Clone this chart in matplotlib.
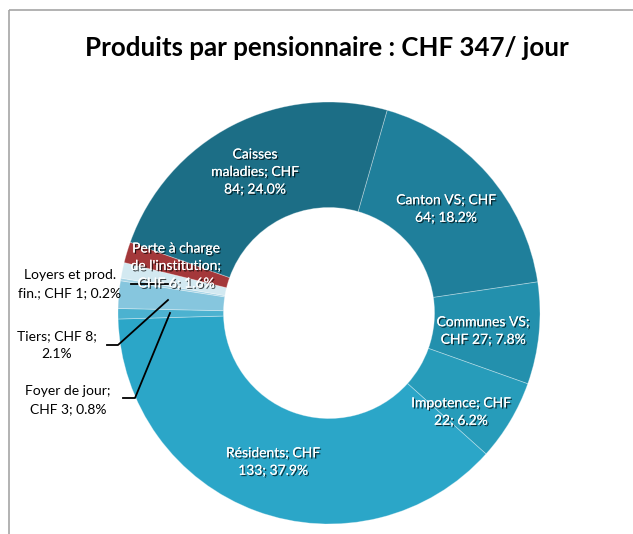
import matplotlib
matplotlib.use("Agg")
import matplotlib.pyplot as plt
import matplotlib.patheffects as pe
from matplotlib.patches import Rectangle

# slices in clockwise order starting at the Canton / Caisses boundary
labels = ["Canton VS", "Communes VS", "Impotence", "Résidents", "Foyer de jour",
          "Tiers", "Loyers et prod. fin.", "", "Perte à charge de l'institution",
          "Caisses maladies"]
chf = [64, 27, 22, 133, 3, 8, 1, None, 6, 84]
pct = [18.2, 7.8, 6.2, 37.9, 0.8, 2.1, 0.2, 1.2, 1.6, 24.0]
colors = ["#1f7f9b", "#2390ad", "#279cba", "#2ba6c8", "#4cb2d0",
          "#86c6de", "#a4d3e5", "#d3e9f1", "#a4383a", "#1c6e86"]

W, H = 633, 534
fig = plt.figure(figsize=(W / 100, H / 100), dpi=100)
fig.patch.set_facecolor("white")

# chart frame (right/bottom edges fall outside the picture)
frame = fig.add_axes([0, 0, 1, 1])
frame.set_xlim(0, W)
frame.set_ylim(H, 0)
frame.axis("off")
frame.add_patch(Rectangle((9, 10), 700, 600, fill=False, edgecolor="#a6a6a6", lw=1.2))

cx, cy, r = 329, 313, 211
ax = fig.add_axes([(cx - r) / W, (H - cy - r) / H, 2 * r / W, 2 * r / H])
ax.pie(pct, colors=colors, startangle=74, counterclock=False, radius=1,
       wedgeprops=dict(width=0.5, edgecolor=(1, 1, 1, 0.35), linewidth=0.6))
ax.set_xlim(-1, 1)
ax.set_ylim(-1, 1)
ax.set_aspect("equal")
ax.axis("off")

over = fig.add_axes([0, 0, 1, 1])
over.set_xlim(0, W)
over.set_ylim(H, 0)
over.axis("off")

font = "Lato"
over.text(327, 48, "Produits par pensionnaire : CHF 347/ jour", ha="center", va="center",
          fontsize=18.6, fontweight="bold", family=font, color="black")

shadow = [pe.withSimplePatchShadow(offset=(1, -1), shadow_rgbFace="black", alpha=0.7), pe.Normal()]


def lab(i):
    return f"{chf[i]}; {pct[i]:.1f}%"


inside = [
    (0, 446, 209, "Canton VS; CHF\n" + lab(0)),
    (1, 483, 331, "Communes VS;\nCHF " + lab(1)),
    (2, 461, 412, "Impotence; CHF\n" + lab(2)),
    (3, 273, 462, "Résidents; CHF\n" + lab(3)),
    (8, 176, 266, "Perte à charge\nde l'institution;\nCHF " + lab(8)),
    (9, 255, 172, "Caisses\nmaladies; CHF\n" + lab(9)),
]
for i, x, y, txt in inside:
    over.text(x, y, txt, ha="center", va="center", fontsize=10, family=font,
              color="white", linespacing=1.55, path_effects=shadow)

outside = [
    (6, 70, 284, "Loyers et prod.\nfin.; CHF " + lab(6), [(131, 284), (168, 284)]),
    (5, 57, 345, "Tiers; CHF " + str(chf[5]) + ";\n" + f"{pct[5]:.1f}%",
     [(107, 345), (118, 345), (168, 300)]),
    (4, 68, 400, "Foyer de jour;\nCHF " + lab(4), [(123, 398), (135, 398), (170, 313)]),
]
for i, x, y, txt, pts in outside:
    over.text(x, y, txt, ha="center", va="center", fontsize=10, family=font,
              color="black", linespacing=1.55)
    xs, ys = zip(*pts)
    over.plot(xs, ys, color="black", lw=1.3)

fig.savefig("out.png", dpi=100)
